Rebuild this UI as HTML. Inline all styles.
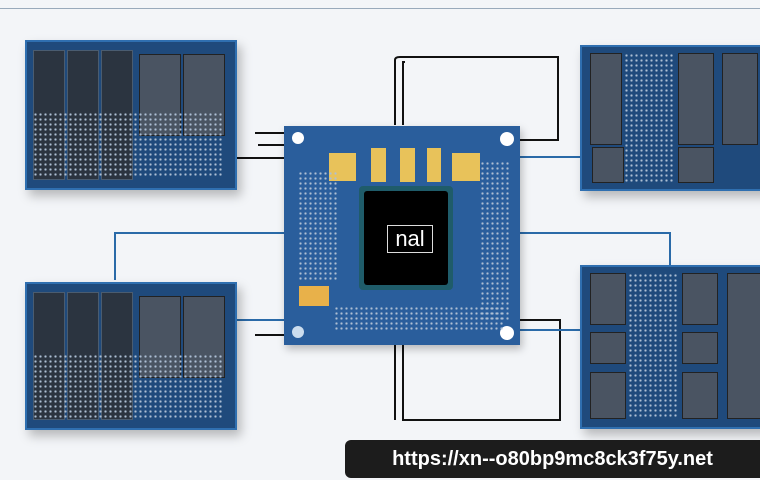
<!DOCTYPE html>
<html><head><style>
body{margin:0;width:760px;height:480px;overflow:hidden;background:#f3f5f8;font-family:"Liberation Sans",sans-serif;position:relative}
.a{position:absolute}
.mod{position:absolute;background:#1f4a7c;border:2px solid #2f6fb0;box-shadow:4px 6px 10px rgba(0,0,0,.25)}
.col{position:absolute;background:#2b3440;border:1px solid #4a5c70}
.blk{position:absolute;background:#4a5462;border:1px solid #222}
.dots{position:absolute;background-image:radial-gradient(#aebfd4 1px,transparent 1.3px);background-size:5px 5px}
</style></head><body>
<div class="a" style="left:0;top:8px;width:760px;height:1px;background:#9ab"></div>
<svg class="a" style="left:0;top:0" width="760" height="480">
<g stroke="#111" stroke-width="2" fill="none">
<path d="M395 125 V60 Q395 57 400 57 H558 V140 H520"/>
<path d="M403 125 V62 H405"/>
<path d="M395 345 V420 M403 345 V420 H560 V320 H520"/>
<path d="M255 133 H285 M258 145 H285 M235 158 H285 M255 335 H285"/>
</g>
<g stroke="#2a6aa8" stroke-width="2" fill="none">
<path d="M115 280 V233 H285 M520 233 H670 V265 M235 320 H285 M520 157 H580 M520 330 H580"/>
</g>
</svg>
<div class="mod" style="left:25px;top:40px;width:208px;height:146px">
<div class="col" style="left:6px;top:8px;width:30px;height:128px"></div>
<div class="col" style="left:40px;top:8px;width:30px;height:128px"></div>
<div class="col" style="left:74px;top:8px;width:30px;height:128px"></div>
<div class="blk" style="left:112px;top:12px;width:40px;height:80px"></div>
<div class="blk" style="left:156px;top:12px;width:40px;height:80px"></div>
<div class="dots" style="left:6px;top:70px;width:190px;height:66px"></div>
</div>
<div class="mod" style="left:25px;top:282px;width:208px;height:144px">
<div class="col" style="left:6px;top:8px;width:30px;height:126px"></div>
<div class="col" style="left:40px;top:8px;width:30px;height:126px"></div>
<div class="col" style="left:74px;top:8px;width:30px;height:126px"></div>
<div class="blk" style="left:112px;top:12px;width:40px;height:80px"></div>
<div class="blk" style="left:156px;top:12px;width:40px;height:80px"></div>
<div class="dots" style="left:6px;top:70px;width:190px;height:64px"></div>
</div>
<div class="mod" style="left:580px;top:45px;width:190px;height:142px">
<div class="blk" style="left:8px;top:6px;width:30px;height:90px"></div>
<div class="blk" style="left:96px;top:6px;width:34px;height:90px"></div>
<div class="blk" style="left:140px;top:6px;width:34px;height:90px"></div>
<div class="blk" style="left:10px;top:100px;width:30px;height:34px"></div>
<div class="blk" style="left:96px;top:100px;width:34px;height:34px"></div>
<div class="dots" style="left:42px;top:6px;width:50px;height:130px"></div>
</div>
<div class="mod" style="left:580px;top:265px;width:190px;height:160px">
<div class="blk" style="left:8px;top:6px;width:34px;height:50px"></div>
<div class="blk" style="left:100px;top:6px;width:34px;height:50px"></div>
<div class="blk" style="left:8px;top:65px;width:34px;height:30px"></div>
<div class="blk" style="left:100px;top:65px;width:34px;height:30px"></div>
<div class="blk" style="left:8px;top:105px;width:34px;height:45px"></div>
<div class="blk" style="left:100px;top:105px;width:34px;height:45px"></div>
<div class="blk" style="left:145px;top:6px;width:34px;height:144px"></div>
<div class="dots" style="left:46px;top:6px;width:50px;height:144px"></div>
</div>
<div class="a" style="left:284px;top:126px;width:236px;height:219px;background:#2a5e9c;box-shadow:2px 4px 8px rgba(0,0,0,.25)">
<div class="a" style="left:8px;top:6px;width:12px;height:12px;border-radius:50%;background:#fff"></div>
<div class="a" style="left:216px;top:6px;width:14px;height:14px;border-radius:50%;background:#fff"></div>
<div class="a" style="left:216px;top:200px;width:14px;height:14px;border-radius:50%;background:#fff"></div>
<div class="a" style="left:8px;top:200px;width:12px;height:12px;border-radius:50%;background:#cde"></div>
<div class="a" style="left:45px;top:27px;width:27px;height:28px;background:#e8c25a"></div>
<div class="a" style="left:87px;top:22px;width:15px;height:34px;background:#e8c25a"></div>
<div class="a" style="left:116px;top:22px;width:15px;height:34px;background:#e8c25a"></div>
<div class="a" style="left:143px;top:22px;width:14px;height:34px;background:#e8c25a"></div>
<div class="a" style="left:168px;top:27px;width:28px;height:28px;background:#e8c25a"></div>
<div class="a" style="left:15px;top:160px;width:30px;height:20px;background:#e8b14a"></div>
<div class="dots" style="left:14px;top:45px;width:40px;height:110px"></div>
<div class="dots" style="left:196px;top:35px;width:30px;height:160px"></div>
<div class="dots" style="left:50px;top:180px;width:170px;height:25px"></div>
<div class="a" style="left:75px;top:60px;width:94px;height:104px;background:#1f5c6a;border-radius:4px"></div>
<div class="a" style="left:80px;top:65px;width:84px;height:94px;background:#000;border-radius:3px"></div>
<div class="a" style="left:103px;top:99px;width:44px;height:26px;border:1px solid #ddd;color:#fff;font-size:22px;line-height:26px;text-align:center">nal</div>
</div>
<div class="a" style="left:345px;top:440px;width:415px;height:38px;background:#1c1c1c;border-radius:6px 0 0 6px;color:#fff;font-weight:bold;font-size:20px;line-height:38px;text-align:center">https://xn--o80bp9mc8ck3f75y.net</div>
</body></html>
